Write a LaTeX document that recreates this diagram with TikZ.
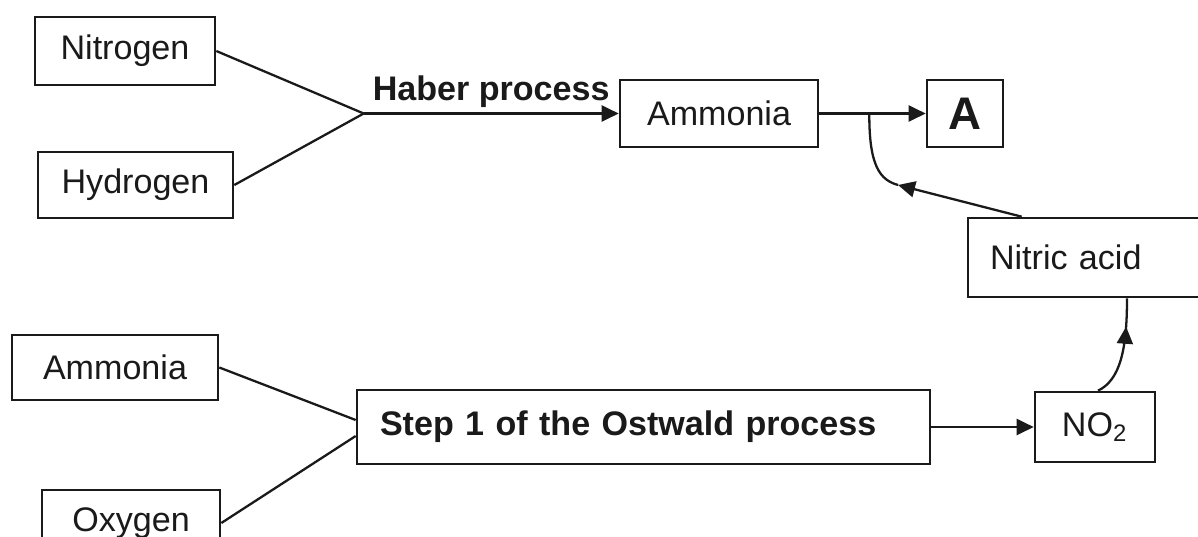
\documentclass[tikz,border=0pt]{standalone}
\usepackage{fontspec}
\setmainfont{Liberation Sans}
\usetikzlibrary{calc,arrows.meta,decorations.markings}
\definecolor{ink}{HTML}{1A1A1A}
\tikzset{
  box/.style={draw=ink, line width=0.75pt, text=ink, inner sep=0pt, font=\fontsize{9.7}{11}\selectfont},
  link/.style={draw=ink, line width=0.65pt},
  flow/.style={link, -{Triangle[length=1.7mm,width=1.6mm]}},
  midflow/.style={link, postaction={decorate},
    decoration={markings, mark=at position #1 with {\arrow{Triangle[length=1.7mm,width=1.6mm]}}}},
  lab/.style={text=ink, font=\bfseries\fontsize{9.7}{11}\selectfont},
}

\begin{document}
\begin{tikzpicture}
  \useasboundingbox (0,0) rectangle (11.98,5.36);
  \clip (0,0) rectangle (11.98,5.36);
  \fill[white] (0,0) rectangle (11.98,5.36);

  \node[box, minimum width=1.80cm, minimum height=0.68cm] (nitrogen) at (1.25,4.85) {Nitrogen};
  \node[box, minimum width=1.95cm, minimum height=0.66cm] (hydrogen) at (1.355,3.51) {Hydrogen};
  \node[box, minimum width=1.98cm, minimum height=0.67cm] (ammoniaA) at (7.19,4.225) {Ammonia};
  \node[box, font=\bfseries\fontsize{13}{15}\selectfont, minimum width=0.76cm, minimum height=0.67cm] (abox) at (9.65,4.225) {A};
  \node[box, text width=1.98cm, align=left, inner xsep=0.22cm, minimum height=0.79cm] (nitric) at (10.89,2.785) {Nitric acid};

  \node[box, minimum width=2.06cm, minimum height=0.65cm] (ammoniaB) at (1.15,1.685) {Ammonia};
  \node[box, minimum width=1.78cm, minimum height=0.66cm] (oxygen) at (1.31,0.13) {Oxygen};
  \node[box, lab, text width=5.27cm, align=left, inner xsep=0.23cm, minimum height=0.74cm] (step) at (6.435,1.09) {Step 1 of the Ostwald process};
  \node[box, minimum width=1.20cm, minimum height=0.70cm] (no2) at (10.95,1.09) {NO\textsubscript{2}};

  \coordinate (haberjoin) at ($(ammoniaA.west)+(-2.55,0)$);
  \coordinate (branch) at ($(ammoniaA.east)!0.47!(abox.west)$);
  \coordinate (bend) at (8.98,3.51);
  \coordinate (nitricin) at ($(nitric.north west)+(0.55,0)$);

  \draw[link] (nitrogen.east) -- (haberjoin);
  \draw[link] (hydrogen.east) -- (haberjoin);
  \draw[flow] (haberjoin) -- node[lab, above, inner sep=1.5pt] (haberlab) {Haber process} (ammoniaA.west);
  \draw[flow] (ammoniaA.east) -- (abox.west);
  \draw[flow] (nitricin) -- (bend);
  \draw[link] (bend) .. controls (8.80,3.56) and (8.69,3.70) .. (branch);

  \draw[link] (ammoniaB.east) -- ($(step.west)+(0,0.07)$);
  \draw[link] (oxygen.east) -- ($(step.west)+(0,-0.09)$);
  \draw[flow] (step.east) -- (no2.west);
  \draw[midflow=0.72] ($(no2.north)+(0.03,0)$) .. controls (11.20,1.56) and (11.27,1.86) .. ($(nitric.south)+(0.38,0)$);
\end{tikzpicture}
\end{document}
